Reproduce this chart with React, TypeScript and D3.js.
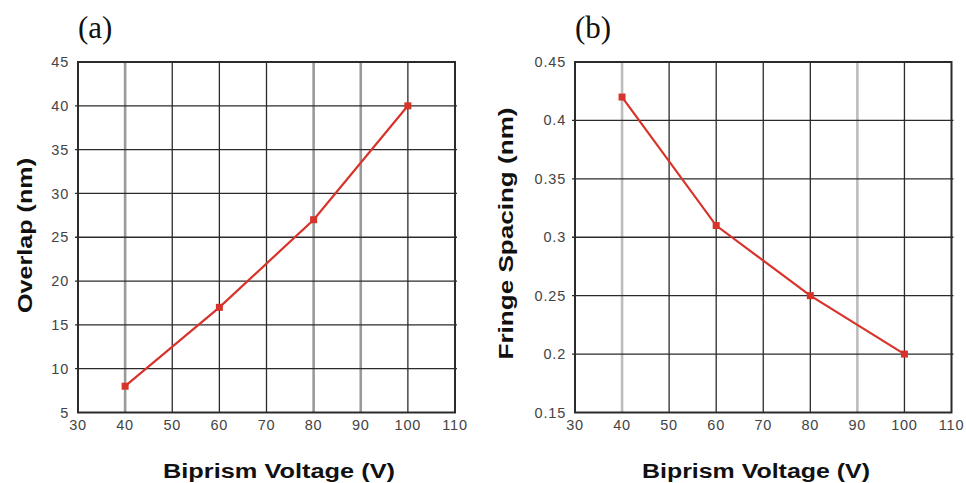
import React from "react";
import * as d3 from "d3";

// Biprism voltage settings (V)
const voltages = [40, 60, 80, 100];
// Overlap width (nm) vs voltage
const overlapValues = [8, 17, 27, 40];
// Fringe spacing (nm) vs voltage
const spacingValues = [0.42, 0.31, 0.25, 0.2];

const xTicks = [30, 40, 50, 60, 70, 80, 90, 100, 110];
const overlapTicks = [5, 10, 15, 20, 25, 30, 35, 40, 45];
const spacingTicks = [0.15, 0.2, 0.25, 0.3, 0.35, 0.4, 0.45];

const xTitle = "Biprism Voltage (V)";

type Panel = {
  tag: string;
  yTitle: string;
  yTitleLen: number;
  values: number[];
  yTicks: number[];
  yDomain: [number, number];
  fmt: (v: number) => string;
  left: number;
  right: number;
  softLines: number[];
  softColor: string;
  titleX: number;
  titleY: number;
  xTitleCx: number;
  xTitleLen: number;
};

const panels: Panel[] = [
  {
    tag: "(a)",
    yTitle: "Overlap (nm)",
    yTitleLen: 155,
    values: overlapValues,
    yTicks: overlapTicks,
    yDomain: [5, 45],
    fmt: (v) => String(v),
    left: 78,
    right: 455,
    softLines: [40, 80, 90],
    softColor: "#9a9a9a",
    titleX: 32,
    titleY: 235.5,
    xTitleCx: 279,
    xTitleLen: 232,
  },
  {
    tag: "(b)",
    yTitle: "Fringe Spacing (nm)",
    yTitleLen: 252,
    values: spacingValues,
    yTicks: spacingTicks,
    yDomain: [0.15, 0.45],
    fmt: (v) => String(+v.toFixed(2)),
    left: 575,
    right: 951.5,
    softLines: [40, 90],
    softColor: "#bdbdbd",
    titleX: 513,
    titleY: 233.5,
    xTitleCx: 756,
    xTitleLen: 228,
  },
];

const TOP = 62;
const BOTTOM = 412.5;
const RED = "#d8332a";
const INK = "#2b2b2b";

function ChartPanel({ p }: { p: Panel }) {
  const x = d3.scaleLinear().domain([30, 110]).range([p.left, p.right]);
  const y = d3.scaleLinear().domain(p.yDomain).range([BOTTOM, TOP]);
  const pts = voltages.map((v, i) => [x(v), y(p.values[i])] as [number, number]);
  const line = d3.line()(pts) ?? "";
  const tickFont = "'Liberation Sans', Arial, sans-serif";

  return (
    <g>
      <text
        x={p.left}
        y={38}
        fontFamily="'Liberation Serif', 'Times New Roman', serif"
        fontSize={31}
        fill="#111"
      >
        {p.tag}
      </text>

      {/* vertical grid */}
      {xTicks.slice(1, -1).map((t) => {
        const soft = p.softLines.includes(t);
        return (
          <line
            key={"vx" + t}
            x1={x(t)}
            x2={x(t)}
            y1={TOP}
            y2={BOTTOM}
            stroke={soft ? p.softColor : INK}
            strokeWidth={soft ? 2.6 : 1.3}
          />
        );
      })}
      {/* horizontal grid */}
      {p.yTicks.slice(1, -1).map((t) => (
        <line
          key={"hy" + t}
          x1={p.left - 3}
          x2={p.right + 2}
          y1={y(t)}
          y2={y(t)}
          stroke={INK}
          strokeWidth={1.3}
        />
      ))}
      {/* frame */}
      <rect
        x={p.left}
        y={TOP}
        width={p.right - p.left}
        height={BOTTOM - TOP}
        fill="none"
        stroke={INK}
        strokeWidth={2}
      />

      {/* y tick labels */}
      {p.yTicks.map((t) => (
        <text
          key={"yl" + t}
          x={p.left - 9}
          y={y(t)}
          dy="0.35em"
          textAnchor="end"
          fontFamily={tickFont}
          fontSize={14.5}
          letterSpacing={0.8}
          fill="#444"
        >
          {p.fmt(t)}
        </text>
      ))}
      {/* x tick labels */}
      {xTicks.map((t) => (
        <text
          key={"xl" + t}
          x={x(t)}
          y={430}
          textAnchor="middle"
          fontFamily={tickFont}
          fontSize={14.5}
          letterSpacing={0.8}
          fill="#444"
        >
          {t}
        </text>
      ))}

      {/* data */}
      <path d={line} fill="none" stroke={RED} strokeWidth={2.2} />
      {pts.map(([cx, cy], i) => (
        <rect key={"m" + i} x={cx - 3.5} y={cy - 3.5} width={7} height={7} fill={RED} />
      ))}

      {/* axis titles */}
      <text
        transform={`translate(${p.titleX},${p.titleY}) rotate(-90)`}
        textAnchor="middle"
        fontFamily={tickFont}
        fontWeight="bold"
        fontSize={20}
        textLength={p.yTitleLen}
        lengthAdjust="spacingAndGlyphs"
        fill="#111"
      >
        {p.yTitle}
      </text>
      <text
        x={p.xTitleCx}
        y={478}
        textAnchor="middle"
        fontFamily={tickFont}
        fontWeight="bold"
        fontSize={20}
        textLength={p.xTitleLen}
        lengthAdjust="spacingAndGlyphs"
        fill="#111"
      >
        {xTitle}
      </text>
    </g>
  );
}

export default function App() {
  return (
    <svg
      width={966}
      height={483}
      style={{ position: "absolute", left: 0, top: 0, background: "#fff" }}
    >
      <rect width={966} height={483} fill="#fff" />
      {panels.map((p) => (
        <ChartPanel key={p.tag} p={p} />
      ))}
    </svg>
  );
}
